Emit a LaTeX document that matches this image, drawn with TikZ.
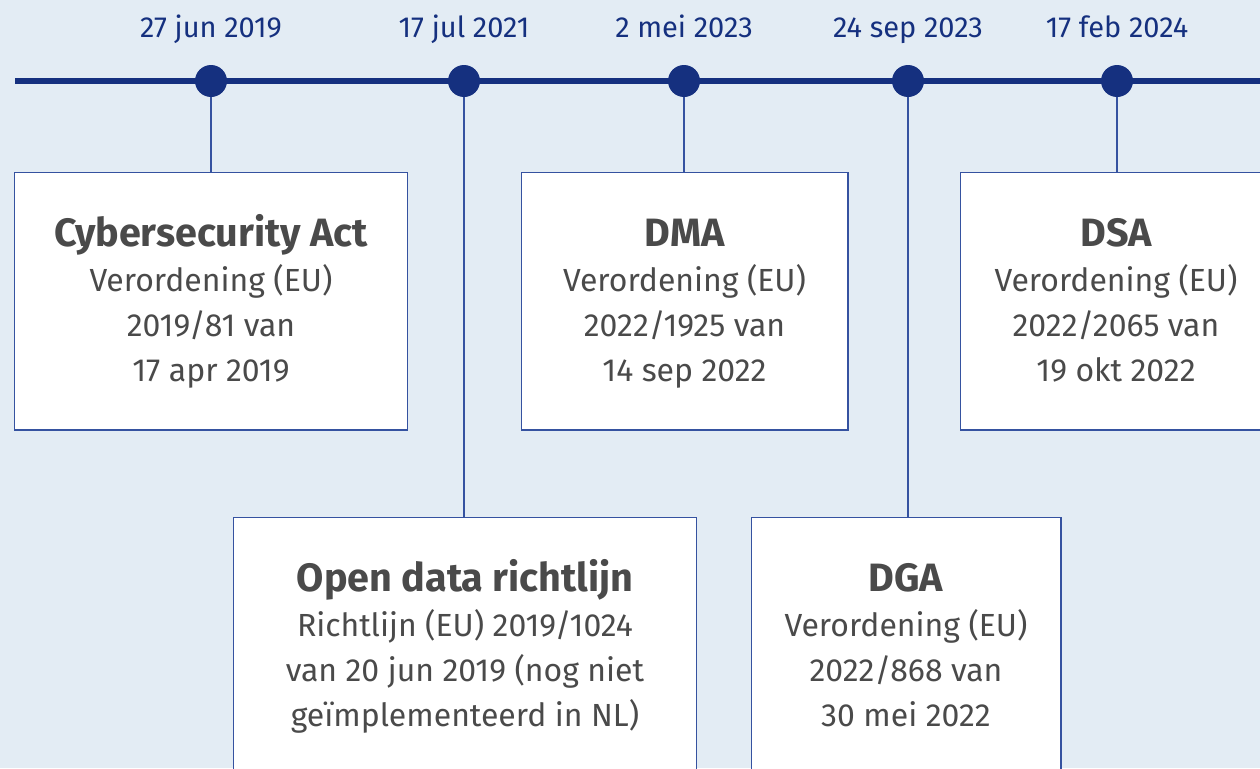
\documentclass[tikz,border=0pt]{standalone}
\usepackage{fontspec}
\setmainfont{Fira Sans}
\usetikzlibrary{positioning}
\definecolor{bgblue}{HTML}{E3ECF4}
\definecolor{navy}{HTML}{15307F}
\definecolor{linkblue}{HTML}{3552A0}
\definecolor{textgray}{HTML}{4A4A4A}
\newcommand{\regtitle}[1]{\rule{0pt}{22pt}{\bfseries\fontsize{22.5}{25.6}\selectfont #1}}

\begin{document}
\begin{tikzpicture}[
    x=0.02cm, y=-0.02cm,
    dot/.style={circle, fill=navy, inner sep=0pt, minimum size=0.64cm},
    datelabel/.style={anchor=base, text=navy, font=\fontsize{16.5}{20}\selectfont},
    regbox/.style={rectangle, draw=linkblue, line width=0.6pt, fill=white, minimum height=5.16cm, align=center, text=textgray, font=\fontsize{18.2}{25.6}\selectfont, execute at end node=\strut},
    timeline/.style={navy, line width=3.4pt},
    link/.style={linkblue, line width=0.85pt}
]
    \useasboundingbox (0,0) rectangle (1260,768);
    \clip (0,0) rectangle (1260,768);
    \fill[bgblue] (0,0) rectangle (1260,768);

    % timeline with its dates
    \coordinate (tstart) at (15,81);
    \coordinate (tend) at (1280,81);
    \draw[timeline] (tstart) -- (tend);

    \node[dot] (d1) at (211,81) {};
    \node[dot] (d2) at (464,81) {};
    \node[dot] (d3) at (684,81) {};
    \node[dot] (d4) at (908,81) {};
    \node[dot] (d5) at (1117,81) {};

    \node[datelabel] (l1) at (211,37) {27 jun 2019};
    \node[datelabel] (l2) at (464,37) {17 jul 2021};
    \node[datelabel] (l3) at (684,37) {2 mei 2023};
    \node[datelabel] (l4) at (908,37) {24 sep 2023};
    \node[datelabel] (l5) at (1117,37) {17 feb 2024};

    % regulations
    \node[regbox, minimum width=7.88cm] (cyber) at (211,301) {\regtitle{Cybersecurity Act}\\Verordening (EU)\\2019/81 van\\17 apr 2019};
    \node[regbox, minimum width=9.28cm] (opendata) at (465,646) {\regtitle{Open data richtlijn}\\Richtlijn (EU) 2019/1024\\van 20 jun 2019 (nog niet\\geïmplementeerd in NL)};
    \node[regbox, minimum width=6.54cm] (dma) at (684.5,301) {\regtitle{DMA}\\Verordening (EU)\\2022/1925 van\\14 sep 2022};
    \node[regbox, minimum width=6.2cm] (dga) at (906,646) {\regtitle{DGA}\\Verordening (EU)\\2022/868 van\\30 mei 2022};
    \node[regbox, minimum width=6.24cm] (dsa) at (1116,301) {\regtitle{DSA}\\Verordening (EU)\\2022/2065 van\\19 okt 2022};

    \draw[link] (d1) -- (cyber.north);
    \draw[link] (d2) -- (d2 |- opendata.north);
    \draw[link] (d3) -- (d3 |- dma.north);
    \draw[link] (d4) -- (d4 |- dga.north);
    \draw[link] (d5) -- (d5 |- dsa.north);
\end{tikzpicture}
\end{document}
